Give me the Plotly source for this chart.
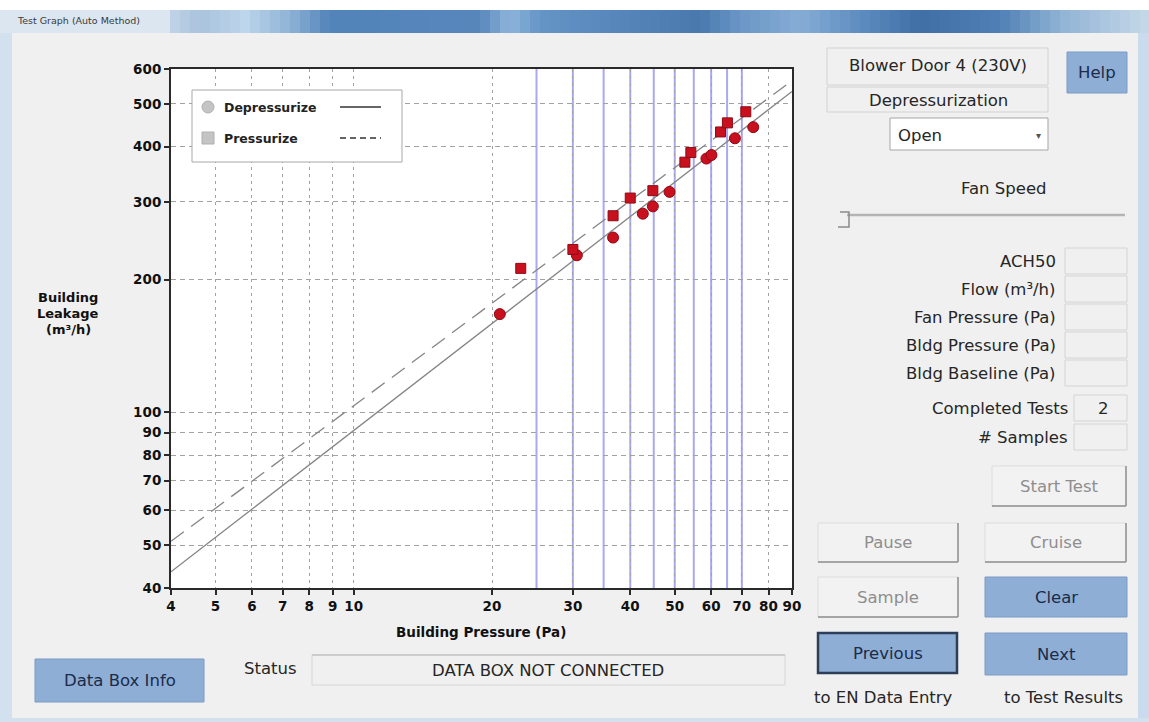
import plotly.graph_objects as go

# ---------------- data ----------------
depress_pressure = [20.8, 30.6, 36.7, 42.6, 44.8, 48.7, 58.6, 60.1, 67.6, 74.1]
depress_flow = [167, 227, 249, 282, 293, 316, 376, 383, 418, 443]
press_pressure = [23.1, 30.0, 36.7, 40.0, 44.8, 52.6, 54.2, 62.9, 65.1, 71.4]
press_flow = [212, 234, 279, 306, 318, 369, 388, 432, 453, 480]

# power-law fits  Q = C * P^n
depress_C, depress_n = 14.26, 0.805
press_C, press_n = 17.5, 0.772
fit_pressure = [4, 90]

target_pressures = [25, 30, 35, 40, 45, 50, 55, 60, 65, 70]
x_ticks = [4, 5, 6, 7, 8, 9, 10, 20, 30, 40, 50, 60, 70, 80, 90]
y_ticks = [40, 50, 60, 70, 80, 90, 100, 200, 300, 400, 500, 600]

# ---------------- geometry helpers ----------------
W, H = 1149, 722
L, R, T, B = 171, 792, 69, 588


def px(x):
    return (x - L) / (R - L)


def py(y):
    return (B - y) / (B - T)


UI_FONT = "DejaVu Sans"
CH_FONT = "DejaVu Sans"
BODY = "#f0f0f0"
BLUE = "#8eaed6"
BLUE_LINE = "#7b9cc6"
BLUE_TEXT = "#1b2b48"
GRAY_TEXT = "#8e8e8e"
DARK_TEXT = "#262626"

shapes = []
annotations = []


def rect(x0, y0, x1, y1, fill, line=None, lw=1, layer="above"):
    shapes.append(dict(type="rect", xref="paper", yref="paper",
                       x0=px(x0), x1=px(x1), y0=py(y1), y1=py(y0),
                       fillcolor=fill,
                       line=dict(color=line if line else fill, width=lw if line else 0),
                       layer=layer))


def seg(x0, y0, x1, y1, color, width=1, dash="solid", layer="above"):
    shapes.append(dict(type="line", xref="paper", yref="paper",
                       x0=px(x0), x1=px(x1), y0=py(y0), y1=py(y1),
                       line=dict(color=color, width=width, dash=dash), layer=layer))


def text(x, y, s, size=17, color=DARK_TEXT, anchor="center", bold=False, family=UI_FONT):
    annotations.append(dict(xref="paper", yref="paper", x=px(x), y=py(y), text=s,
                            showarrow=False, xanchor=anchor, yanchor="middle",
                            font=dict(family=family, size=size, color=color,
                                      weight="bold" if bold else "normal")))


def hexcol(c):
    c = c.lstrip("#")
    return [int(c[i:i + 2], 16) for i in (0, 2, 4)]


# ---------------- window chrome ----------------
rect(0, 0, W, 10, "#ffffff", layer="below")
rect(0, 10, 12, H, "#d3e1ef", layer="below")
rect(W - 11, 10, W, H, "#c9dbec", layer="below")
rect(0, H - 4, W, H, "#d3e1ef", layer="below")

stops = [(0, "#dce7f2"), (150, "#d3e0ee"), (200, "#a9c3de"), (245, "#bdd6ec"),
         (290, "#8fb3d7"), (330, "#5284b9"), (480, "#5887bc"), (510, "#8eb5db"),
         (540, "#6595c7"), (700, "#4979ad"), (740, "#6b97c7"), (800, "#86add5"),
         (860, "#5e8dc1"), (920, "#3f6fa4"), (1000, "#4f80b6"), (1060, "#90b3d5"),
         (1149, "#c6d9ea")]
step = 10
for xs in range(0, W, step):
    xm = xs + step / 2
    for (a, ca), (b, cb) in zip(stops[:-1], stops[1:]):
        if a <= xm <= b:
            t = (xm - a) / (b - a)
            A, Bc = hexcol(ca), hexcol(cb)
            col = "#%02x%02x%02x" % tuple(int(A[i] + (Bc[i] - A[i]) * t) for i in range(3))
            break
    rect(xs, 10, min(xs + step + 1, W), 33, col, layer="below")
rect(0, 10, 170, 33, "#dbe6f1", layer="below")
text(15, 20, "Test Graph (Auto Method)", size=9.5, color="#3a3a3a", anchor="left")

# ---------------- legend box inside plot ----------------
rect(192, 90, 402, 162, "#ffffff", line="#a8a8a8", lw=1)
shapes.append(dict(type="circle", xref="paper", yref="paper",
                   x0=px(202), x1=px(214), y0=py(113), y1=py(101),
                   fillcolor="#c4c4c4", line=dict(color="#b0b0b0", width=1)))
rect(202, 132, 214, 144, "#c4c4c4", line="#b0b0b0")
text(222, 107, "Depressurize", size=12.5, color="#222", anchor="left", bold=True, family=CH_FONT)
text(222, 138, "Pressurize", size=12.5, color="#222", anchor="left", bold=True, family=CH_FONT)
seg(340, 107, 381, 107, "#333333", width=1.5)
seg(340, 138, 381, 138, "#333333", width=1.5, dash="6px,4px")

# ---------------- axis titles ----------------
text(481, 632, "Building Pressure (Pa)", size=13.5, color="#111", bold=True, family=CH_FONT)
text(68, 297, "Building", size=13, color="#111", bold=True, family=CH_FONT)
text(68, 313, "Leakage", size=13, color="#111", bold=True, family=CH_FONT)
text(68, 329, "(m³/h)", size=13, color="#111", bold=True, family=CH_FONT)

# ---------------- right panel ----------------
rect(827, 48, 1048, 85, BODY, line="#d2d2d2")
text(938, 66, "Blower Door 4 (230V)", size=16.5)
rect(827, 87, 1048, 112, BODY, line="#d2d2d2")
text(938, 100, "Depressurization", size=16.5)
rect(1067, 52, 1127, 93, BLUE, line=BLUE_LINE)
text(1097, 73, "Help", size=16.5, color=BLUE_TEXT)
rect(890, 118, 1048, 150, "#ffffff", line="#a5a5a5")
text(896, 136, "Open", size=16.5, anchor="left")
text(1038, 136, "▾", size=10, color="#555")
text(1049, 188, "Fan Speed", size=16.5, anchor="right")
seg(847, 215, 1125, 215, "#b4b4b4", width=2.5)
shapes.append(dict(type="path", xref="paper", yref="paper",
                   path="M %f %f L %f %f L %f %f L %f %f" % (px(840), py(212), px(849), py(212),
                                                              px(849), py(227), px(838), py(227)),
                   line=dict(color="#8a8a8a", width=1.5)))

readouts = [("ACH50", 261), ("Flow (m³/h)", 289), ("Fan Pressure (Pa)", 317),
            ("Bldg Pressure (Pa)", 345), ("Bldg Baseline (Pa)", 373)]
for lab, yc in readouts:
    text(1058, yc, lab, size=16.5, anchor="right")
    rect(1065, yc - 13, 1127, yc + 13, BODY, line="#d4d4d4")
text(1070, 408, "Completed Tests", size=16.5, anchor="right")
rect(1074, 395, 1127, 421, BODY, line="#d4d4d4")
text(1103, 408, "2", size=16.5)
text(1070, 437, "# Samples", size=16.5, anchor="right")
rect(1074, 424, 1127, 450, BODY, line="#d4d4d4")


def gray_button(x0, y0, x1, y1, label):
    rect(x0, y0, x1, y1, "#f2f2f2", line="#dcdcdc")
    seg(x0, y1, x1, y1, "#8f8f8f", width=1.5)
    seg(x1, y0, x1, y1, "#8f8f8f", width=1.5)
    text((x0 + x1) / 2, (y0 + y1) / 2, label, size=16.5, color=GRAY_TEXT)


def blue_button(x0, y0, x1, y1, label, border=None, bw=1):
    rect(x0, y0, x1, y1, BLUE, line=border if border else BLUE_LINE, lw=bw)
    text((x0 + x1) / 2, (y0 + y1) / 2, label, size=16.5, color=BLUE_TEXT)


gray_button(992, 466, 1126, 506, "Start Test")
gray_button(818, 523, 958, 562, "Pause")
gray_button(985, 523, 1126, 562, "Cruise")
gray_button(818, 577, 958, 617, "Sample")
blue_button(985, 577, 1127, 617, "Clear")
blue_button(818, 633, 957, 673, "Previous", border="#2c3e58", bw=2.5)
blue_button(985, 633, 1127, 675, "Next")
text(883, 697, "to EN Data Entry", size=16.5)
text(1063, 697, "to Test Results", size=16.5)

# ---------------- bottom status row ----------------
blue_button(35, 659, 204, 702, "Data Box Info")
text(270, 668, "Status", size=16.5)
rect(312, 655, 785, 685, BODY, line="#d6d6d6")
seg(312, 655, 785, 655, "#c4c4c4", width=1.5)
text(548, 670, "DATA BOX NOT CONNECTED", size=16.5)

# ---------------- target pressure lines ----------------
for p in target_pressures:
    shapes.append(dict(type="line", xref="x", yref="paper", x0=p, x1=p, y0=0, y1=1,
                       line=dict(color="#a9a9f2", width=2), layer="between"))

# ---------------- traces ----------------
fig = go.Figure()
fig.add_trace(go.Scatter(
    x=fit_pressure, y=[depress_C * p ** depress_n for p in fit_pressure],
    mode="lines", line=dict(color="#858585", width=1.3), name="Depressurize fit",
    hoverinfo="skip"))
fig.add_trace(go.Scatter(
    x=fit_pressure, y=[press_C * p ** press_n for p in fit_pressure],
    mode="lines", line=dict(color="#858585", width=1.3, dash="16px,9px"),
    name="Pressurize fit", hoverinfo="skip"))
fig.add_trace(go.Scatter(
    x=depress_pressure, y=depress_flow, mode="markers", name="Depressurize",
    marker=dict(symbol="circle", size=11, color="#c8101f",
                line=dict(color="#8e0a14", width=1))))
fig.add_trace(go.Scatter(
    x=press_pressure, y=press_flow, mode="markers", name="Pressurize",
    marker=dict(symbol="square", size=10, color="#c8101f",
                line=dict(color="#8e0a14", width=1))))

axis_common = dict(type="log", showline=True, linecolor="#2a2a2a", linewidth=2,
                   mirror=True, ticks="outside", ticklen=5, tickwidth=1.5,
                   tickcolor="#2a2a2a", showgrid=True, gridcolor="#a2a2a2",
                   gridwidth=1, zeroline=False, automargin=False,
                   tickfont=dict(family=CH_FONT, size=13.5, color="#111", weight="bold"))

fig.update_layout(
    width=W, height=H,
    margin=dict(l=L, r=W - R, t=T, b=H - B, pad=0),
    paper_bgcolor=BODY, plot_bgcolor="#ffffff",
    showlegend=False,
    xaxis=dict(axis_common, range=[0.60206, 1.954243], tickvals=x_ticks,
               ticktext=[str(v) for v in x_ticks], griddash="3px,4px"),
    yaxis=dict(axis_common, range=[1.60206, 2.778151], tickvals=y_ticks,
               ticktext=[str(v) for v in y_ticks], griddash="5px,4px"),
    shapes=shapes,
    annotations=annotations,
)

fig.write_html("out.html", config={"displayModeBar": False, "responsive": False},
               post_script="document.body.style.margin='0';document.body.style.overflow='hidden';")
